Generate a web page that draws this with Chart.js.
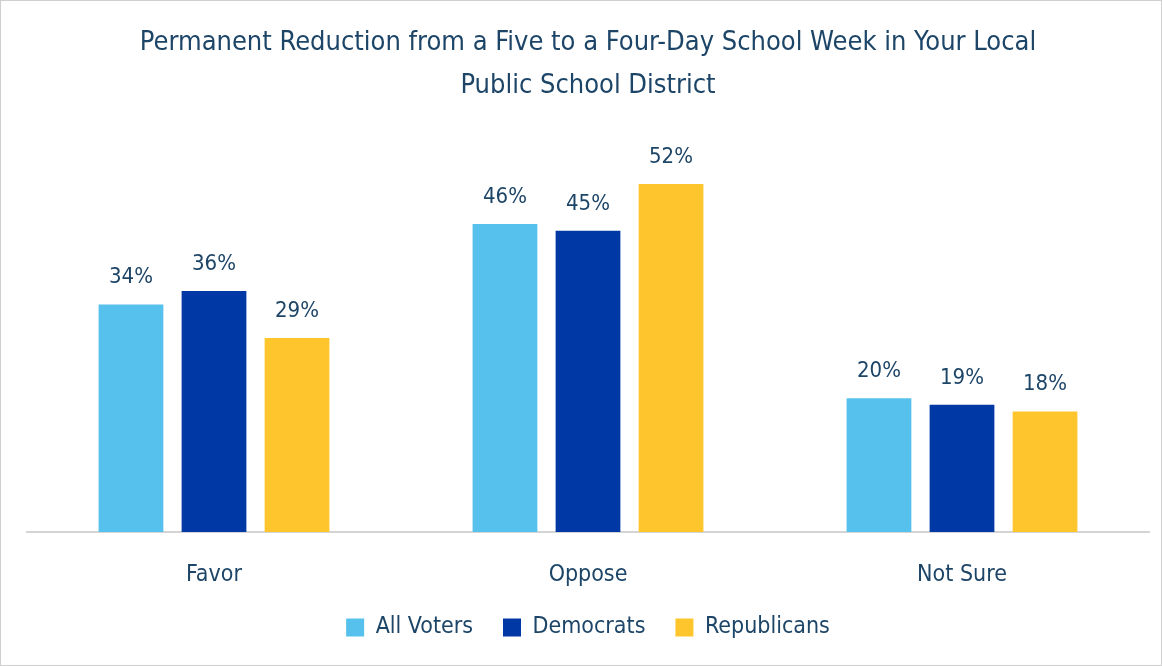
<!DOCTYPE html>
<html>
<head>
<meta charset="utf-8">
<script src="https://cdn.jsdelivr.net/npm/chart.js@4.4.0/dist/chart.umd.min.js"></script>
<style>
  html, body { margin: 0; padding: 0; background: #fff; }
  #wrap { position: relative; width: 1160px; height: 664px; border: 1px solid #cfcfcf; }
</style>
</head>
<body>
<div id="wrap"><canvas id="surveyChart" width="1160" height="664"></canvas></div>
<script>
// Survey data (percent)
const categories = ["Favor", "Oppose", "Not Sure"];
const seriesNames = ["All Voters", "Democrats", "Republicans"];
const allVoters = [34, 46, 20];
const democrats = [36, 45, 19];
const republicans = [29, 52, 18];

const textColor = "#1d4567";
const fontFamily = "'Liberation Sans Narrow', 'DejaVu Sans Condensed', 'Roboto', sans-serif";

// Draw the percent value above each bar
const valueLabels = {
  id: "valueLabels",
  afterDatasetsDraw(chart) {
    const ctx = chart.ctx;
    ctx.save();
    ctx.font = "22px " + fontFamily;
    ctx.fillStyle = textColor;
    ctx.textAlign = "center";
    ctx.textBaseline = "bottom";
    chart.data.datasets.forEach(function (ds, i) {
      chart.getDatasetMeta(i).data.forEach(function (bar, j) {
        ctx.fillText(ds.data[j] + "%", bar.x, bar.y - 16);
      });
    });
    ctx.restore();
  },
};

new Chart(document.getElementById("surveyChart"), {
  type: "bar",
  data: {
    labels: categories,
    datasets: [
      { label: seriesNames[0], data: allVoters, backgroundColor: "#56c1ec" },
      { label: seriesNames[1], data: democrats, backgroundColor: "#0039a6" },
      { label: seriesNames[2], data: republicans, backgroundColor: "#ffc52c" },
    ],
  },
  options: {
    responsive: false,
    animation: false,
    categoryPercentage: 0.666,
    barPercentage: 0.78,
    layout: { padding: { left: 26, right: 12, top: 0, bottom: 16 } },
    scales: {
      x: {
        grid: { display: false, drawTicks: false },
        border: { display: true, color: "#d4d4d4", width: 2 },
        ticks: { color: textColor, padding: 29, font: { family: fontFamily, size: 23 } },
        afterFit: function (scale) {
          scale.height = 54;
        },
      },
      y: {
        display: false,
        min: 0,
        max: 60,
      },
    },
    plugins: {
      title: {
        display: true,
        text: [
          "Permanent Reduction from a Five to a Four-Day School Week in Your Local",
          "Public School District",
        ],
        color: textColor,
        font: { family: fontFamily, size: 27, weight: "normal", lineHeight: 1.6 },
        padding: { top: 20, bottom: 23 },
      },
      legend: {
        position: "bottom",
        labels: {
          color: textColor,
          boxWidth: 18,
          boxHeight: 18,
          padding: 30,
          font: { family: fontFamily, size: 23 },
        },
      },
      tooltip: { enabled: false },
    },
  },
  plugins: [valueLabels],
});
</script>
</body>
</html>
